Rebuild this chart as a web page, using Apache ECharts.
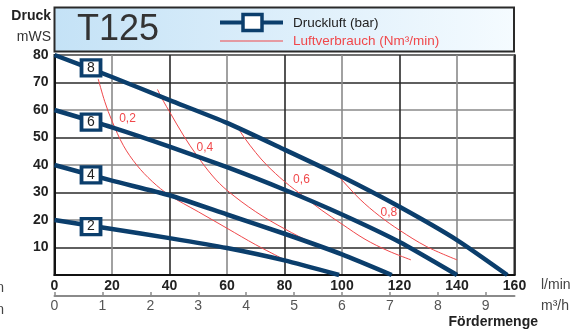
<!DOCTYPE html>
<html><head><meta charset="utf-8">
<script src="https://cdn.jsdelivr.net/npm/echarts@6/dist/echarts.min.js"></script>
<style>html,body{margin:0;padding:0;background:#fff}#c{width:587px;height:333px}</style>
</head><body><div id="c"></div>
<script>
// ---- data ----
const xTicksLpm = [0, 20, 40, 60, 80, 100, 120, 140, 160];
const xTicksM3h = [0, 1, 2, 3, 4, 5, 6, 7, 8, 9];
const yTicks = [10, 20, 30, 40, 50, 60, 70, 80];

const pressureNames = ['8', '6', '4', '2'];
const bar8 = [[0,80],[20,72],[40,63.6],[60,55.3],[80,45.6],[100,35.7],[120,24.8],[140,12.7],[157.5,0]];
const bar6 = [[0,60],[20,53.7],[40,46.7],[60,39.2],[80,31],[100,22],[120,12],[140,0]];
const bar4 = [[0,40],[20,34.3],[40,29],[60,22],[80,15],[100,7.5],[117.3,0]];
const bar2 = [[0,20],[20,16.7],[40,13.4],[60,9.8],[80,5.3],[99,0]];
const pressureLabelAt = [[12.7,75.3],[12.7,55.6],[12.7,36.4],[12.7,17.6]];

const airNames = ['0,2', '0,4', '0,6', '0,8'];
const air02 = [[15.2,71.3],[17.5,63],[20,56],[24,47],[28.6,40],[34,34],[40,29],[50,23],[60,17],[70,11],[82,4.5]];
const air04 = [[35.8,67.5],[38,63],[40,59.4],[45,50.5],[49.5,43.5],[55,36],[60,30.8],[70,23],[80,16.8],[90,11.5],[101,6.8]];
const air06 = [[63.4,54.2],[66,50],[70,44.5],[73.8,40],[80,34],[87,28.3],[93,23.5],[100,18.5],[108,13],[116,8.8],[124,5.5]];
const air08 = [[97,38],[100,34.5],[106.3,27.5],[113,21.5],[120,16.3],[129.5,10.3],[140,5.5]];
const airLabelAt = [[25.4,57],[52.3,46.2],[85.9,34.5],[116.3,22.5]];

// ---- styling ----
const BLUE = '#0b3e6c';
const RED = '#f0484b';
const FONT = 'Liberation Sans, Arial, sans-serif';

const chart = echarts.init(document.getElementById('c'), null, {renderer: 'canvas'});

const pressureData = [bar8, bar6, bar4, bar2];
const airData = [air02, air04, air06, air08];

const series = [];
airData.forEach((d, i) => {
  series.push({
    type: 'line', name: 'air' + airNames[i], data: d, xAxisIndex: 0, yAxisIndex: 0,
    smooth: 0.35, symbol: 'none', z: 3,
    lineStyle: {color: RED, width: 1},
    markPoint: {
      symbol: 'circle', symbolSize: 0, silent: true,
      label: {show: true, formatter: airNames[i], color: RED, fontSize: 12, fontFamily: FONT, position: 'inside'},
      data: [{coord: airLabelAt[i]}]
    }
  });
});
pressureData.forEach((d, i) => {
  series.push({
    type: 'line', name: 'bar' + pressureNames[i], data: d, xAxisIndex: 0, yAxisIndex: 0,
    smooth: 0.2, symbol: 'none', z: 5,
    lineStyle: {color: BLUE, width: 4.5},
    markPoint: {
      symbol: 'rect', symbolSize: [19, 16], silent: true, z: 10,
      itemStyle: {color: '#fff', borderColor: BLUE, borderWidth: 3.5},
      label: {show: true, formatter: pressureNames[i], color: '#222', fontSize: 14, fontFamily: FONT, position: 'inside'},
      data: [{coord: pressureLabelAt[i]}]
    }
  });
});

const option = {
  animation: false,
  backgroundColor: '#fff',
  grid: {left: 54.5, right: 72.5, top: 55, bottom: 58, show: true, borderColor: '#222', borderWidth: 2, backgroundColor: 'transparent'},
  xAxis: [{
    type: 'value', min: 0, max: 160, interval: 20, position: 'bottom',
    axisLine: {show: true, onZero: false, lineStyle: {color: '#111', width: 2}},
    axisTick: {show: false},
    axisLabel: {color: '#222', fontSize: 14, fontWeight: 'bold', fontFamily: FONT, margin: 4,
      customValues: xTicksLpm},
    splitLine: {show: true, lineStyle: {color: ['#2a2a2a', '#8a8a8a'], width: 1.6}}
  }, {
    type: 'value', min: 0, max: 160 * 60 / 1000, position: 'bottom', offset: 21,
    axisLine: {show: true, onZero: false, lineStyle: {color: '#8a8a8a', width: 2}},
    axisTick: {show: true, inside: true, length: 4, lineStyle: {color: '#8a8a8a', width: 1.5}, customValues: xTicksM3h},
    axisLabel: {color: '#555', fontSize: 14, fontFamily: FONT, margin: 3, customValues: xTicksM3h},
    splitLine: {show: false}
  }],
  yAxis: [{
    type: 'value', min: 0, max: 80, interval: 10,
    axisLine: {show: true, lineStyle: {color: '#111', width: 2}},
    axisTick: {show: false},
    axisLabel: {color: '#222', fontSize: 14, fontWeight: 'bold', fontFamily: FONT, margin: 6, customValues: yTicks},
    splitLine: {show: true, lineStyle: {color: ['#8a8a8a', '#2a2a2a'], width: 1.6}}
  }],
  series: series,
  graphic: [
    {type: 'rect', shape: {x: 54.5, y: 7.5, width: 459.5, height: 44}, z: 1,
      style: {fill: new echarts.graphic.LinearGradient(0, 0, 1, 0, [{offset: 0, color: '#c4e2f6'}, {offset: 1, color: '#f5fbff'}]),
        stroke: '#2a2a2a', lineWidth: 2}},
    {type: 'text', x: 77, y: 30, z: 2, style: {text: 'T125', fontSize: 36, fontFamily: FONT, fill: '#333', verticalAlign: 'middle'}},
    {type: 'line', shape: {x1: 220, y1: 22.5, x2: 283, y2: 22.5}, z: 2, style: {stroke: BLUE, lineWidth: 4}},
    {type: 'rect', shape: {x: 243, y: 14.5, width: 19, height: 16}, z: 3, style: {fill: '#fff', stroke: BLUE, lineWidth: 3.5}},
    {type: 'line', shape: {x1: 220, y1: 41, x2: 283, y2: 41}, z: 2, style: {stroke: RED, lineWidth: 1}},
    {type: 'text', x: 293, y: 23, z: 2, style: {text: 'Druckluft (bar)', fontSize: 13.5, fontFamily: FONT, fill: '#222', verticalAlign: 'middle'}},
    {type: 'text', x: 293, y: 41, z: 2, style: {text: 'Luftverbrauch (Nm³/min)', fontSize: 13.5, fontFamily: FONT, fill: RED, verticalAlign: 'middle'}},
    {type: 'text', x: 51, y: 16, style: {text: 'Druck', fontSize: 14, fontWeight: 'bold', fontFamily: FONT, fill: '#222', align: 'right', verticalAlign: 'middle'}},
    {type: 'text', x: 51, y: 37, style: {text: 'mWS', fontSize: 14, fontFamily: FONT, fill: '#333', align: 'right', verticalAlign: 'middle'}},
    {type: 'text', x: 541, y: 285, style: {text: 'l/min', fontSize: 14, fontFamily: FONT, fill: '#444', verticalAlign: 'middle'}},
    {type: 'text', x: 541, y: 306, style: {text: 'm³/h', fontSize: 14, fontFamily: FONT, fill: '#444', verticalAlign: 'middle'}},
    {type: 'text', x: 538, y: 322, style: {text: 'Fördermenge', fontSize: 14, fontWeight: 'bold', fontFamily: FONT, fill: '#222', align: 'right', verticalAlign: 'middle'}},
    {type: 'text', x: 4, y: 288, style: {text: 'n', fontSize: 14, fontFamily: FONT, fill: '#444', align: 'right', verticalAlign: 'middle'}},
    {type: 'text', x: 4, y: 310, style: {text: 'n', fontSize: 14, fontFamily: FONT, fill: '#444', align: 'right', verticalAlign: 'middle'}}
  ]
};
chart.setOption(option);
</script>
</body></html>
